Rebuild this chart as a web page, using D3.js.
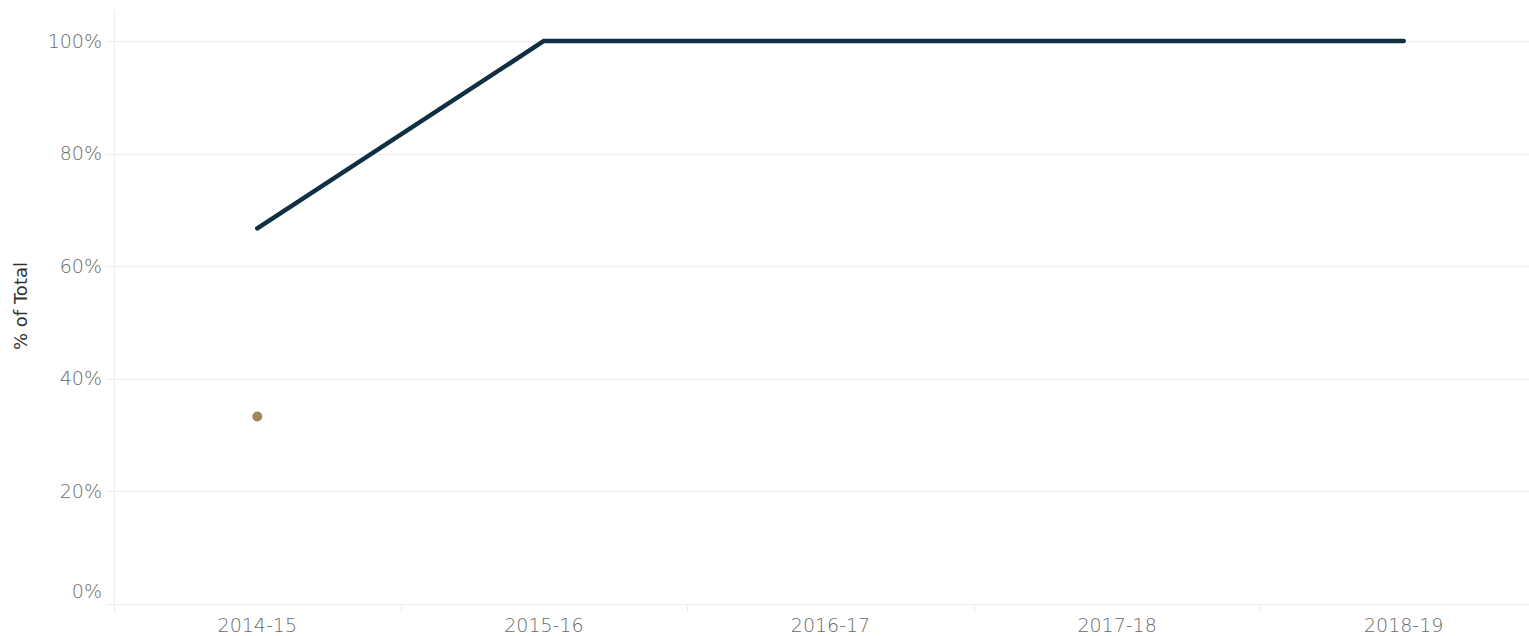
<!DOCTYPE html>
<html>
<head>
<meta charset="utf-8">
<script src="https://cdn.jsdelivr.net/npm/d3@7"></script>
<style>
  body { margin: 0; background: #fff; }
  svg { display: block; font-family: "DejaVu Sans", sans-serif; }
</style>
</head>
<body>
<div id="chart"></div>
<script>
const years = ["2014-15", "2015-16", "2016-17", "2017-18", "2018-19"];
const mainShare = [66.7, 100, 100, 100, 100];
const otherShare = [33.3, null, null, null, null];
const yTicks = [0, 20, 40, 60, 80, 100];

const width = 1529, height = 636;
const margin = { top: 10, right: -18, bottom: 32, left: 114 };

const svg = d3.select("#chart")
    .append("svg")
    .attr("width", width)
    .attr("height", height);

let x = d3.scaleBand()
    .domain(years)
    .range([margin.left, width - margin.right]);

let y = d3.scaleLinear()
    .domain([0, 105.5])
    .range([height - margin.bottom, margin.top]);

// gridlines
svg.append("g")
    .selectAll("line")
    .data(yTicks)
    .join("line")
    .attr("x1", margin.left - 8)
    .attr("x2", width)
    .attr("y1", d => Math.round(y(d)) + 0.5)
    .attr("y2", d => Math.round(y(d)) + 0.5)
    .attr("stroke", "#ececec")
    .attr("stroke-width", 1);

// y axis line
svg.append("line")
    .attr("x1", margin.left + 0.5)
    .attr("x2", margin.left + 0.5)
    .attr("y1", margin.top)
    .attr("y2", height - margin.bottom + 8)
    .attr("stroke", "#ececec");

// x ticks between bands
svg.append("g")
    .selectAll("line")
    .data(years.slice(1))
    .join("line")
    .attr("x1", d => Math.round(x(d)) + 0.5)
    .attr("x2", d => Math.round(x(d)) + 0.5)
    .attr("y1", height - margin.bottom)
    .attr("y2", height - margin.bottom + 8)
    .attr("stroke", "#ececec");

// y tick labels
svg.append("g")
    .attr("fill", "#6a6a6a")
    .attr("font-size", 19)
    .attr("font-weight", 300)
    .attr("text-anchor", "end")
    .selectAll("text")
    .data(yTicks)
    .join("text")
    .attr("x", margin.left - 12)
    .attr("y", d => d === 0 ? y(d) - 13 : y(d))
    .attr("dy", "0.35em")
    .text(d => d + "%");

// x tick labels
svg.append("g")
    .attr("fill", "#6a6a6a")
    .attr("font-size", 19)
    .attr("font-weight", 300)
    .attr("text-anchor", "middle")
    .selectAll("text")
    .data(years)
    .join("text")
    .attr("x", d => x(d) + x.bandwidth() / 2)
    .attr("y", height - margin.bottom + 21)
    .attr("dy", "0.35em")
    .text(d => d);

// y axis title
svg.append("text")
    .attr("transform", `translate(21,306) rotate(-90)`)
    .attr("text-anchor", "middle")
    .attr("dy", "0.35em")
    .attr("fill", "#333")
    .attr("font-size", 18)
    .text("% of Total");

let cx = d => x(d) + x.bandwidth() / 2;

let line = d3.line()
    .defined(d => d.v != null)
    .x(d => cx(d.year))
    .y(d => y(d.v));

svg.append("path")
    .datum(years.map((yr, i) => ({ year: yr, v: mainShare[i] })))
    .attr("fill", "none")
    .attr("stroke", "#0f2f42")
    .attr("stroke-width", 4.5)
    .attr("stroke-linecap", "round")
    .attr("stroke-linejoin", "round")
    .attr("d", line);

svg.append("g")
    .attr("fill", "#a08a5c")
    .selectAll("circle")
    .data(years.map((yr, i) => ({ year: yr, v: otherShare[i] })).filter(d => d.v != null))
    .join("circle")
    .attr("cx", d => cx(d.year))
    .attr("cy", d => y(d.v))
    .attr("r", 5);
</script>
</body>
</html>
